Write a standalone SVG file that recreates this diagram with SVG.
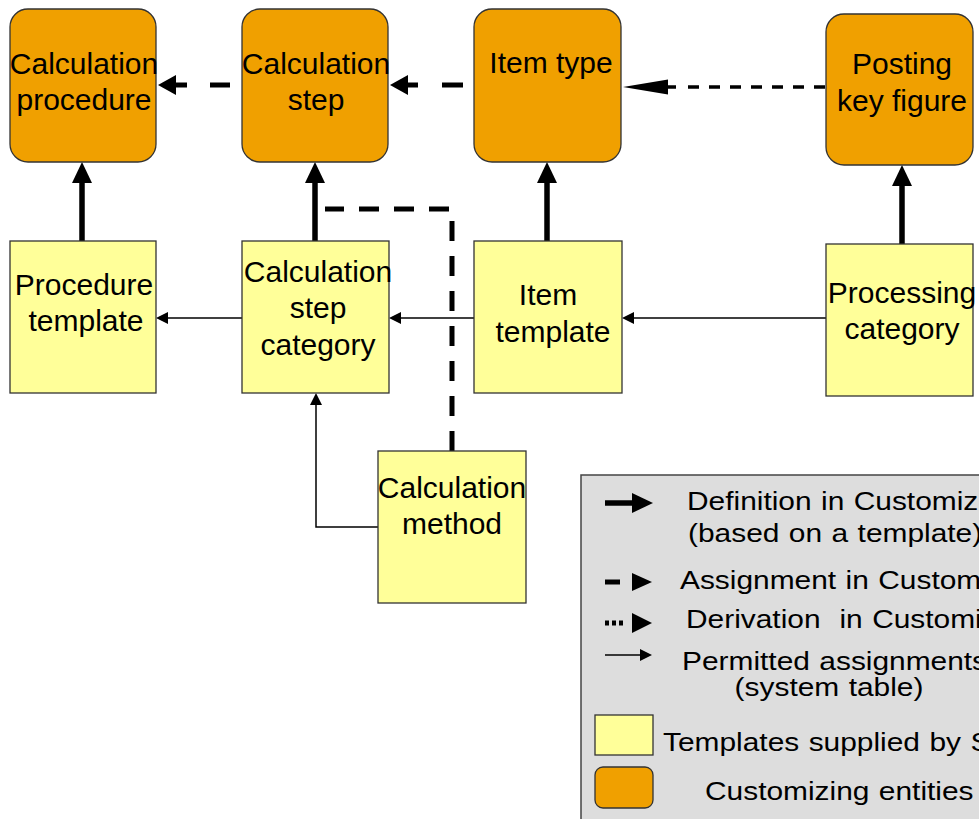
<svg xmlns="http://www.w3.org/2000/svg" width="979" height="819" viewBox="0 0 979 819">
<style>
.ent{fill:#f0a000;stroke:#333;stroke-width:1.3}
.tpl{fill:#ffff99;stroke:#333;stroke-width:1.3}
.t{font-family:"Liberation Sans",Arial,sans-serif;font-size:30px;fill:#000;text-anchor:middle}
.lt{font-family:"Liberation Sans",Arial,sans-serif;font-size:26px;fill:#000;word-spacing:1px}
.def{stroke:#000;stroke-width:5.5;fill:none}
.asg{stroke:#000;stroke-width:5;fill:none}
.der{stroke:#000;stroke-width:3.5;fill:none}
.perm{stroke:#000;stroke-width:1.5;fill:none}
</style>
<defs>
<marker id="mDef" markerUnits="userSpaceOnUse" markerWidth="22" markerHeight="22" refX="0" refY="10" orient="auto" viewBox="0 0 22 20">
<path d="M0,0 L21,10 L0,20 z" fill="#000"/>
</marker>
<marker id="mAsg" markerUnits="userSpaceOnUse" markerWidth="20" markerHeight="22" refX="0" refY="10" orient="auto" viewBox="0 0 20 20">
<path d="M0,0 L18,10 L0,20 z" fill="#000"/>
</marker>
<marker id="mDer" markerUnits="userSpaceOnUse" markerWidth="46" markerHeight="16" refX="0" refY="7.5" orient="auto" viewBox="0 0 46 15">
<path d="M0,0 L45,7.5 L0,15 z" fill="#000"/>
</marker>
<marker id="mPerm" markerUnits="userSpaceOnUse" markerWidth="12" markerHeight="12" refX="0" refY="6" orient="auto" viewBox="0 0 12 12">
<path d="M0,0 L12,6 L0,12 z" fill="#000"/>
</marker>
</defs>

<g id="connectors">
<path class="asg" d="M242,85 L176,85" stroke-dasharray="0 12 20 23 11" marker-end="url(#mAsg)"/>
<path class="asg" d="M474,85 L408,85" stroke-dasharray="0 11 21 24 10" marker-end="url(#mAsg)"/>
<path class="der" d="M676,87 L668,87" marker-end="url(#mDer)"/>
<path class="der" d="M688,87 L826,87" stroke-dasharray="11 10"/>
<path class="def" d="M82,241 L82,183" marker-end="url(#mDef)"/>
<path class="def" d="M315,241 L315,183" marker-end="url(#mDef)"/>
<path class="def" d="M547,241 L547,183" marker-end="url(#mDef)"/>
<path class="def" d="M902,244 L902,186" marker-end="url(#mDef)"/>
<path class="asg" d="M452,451 L452,209 L325,209" stroke-dasharray="20 15"/>
<path class="perm" d="M242,318 L168,318" marker-end="url(#mPerm)"/>
<path class="perm" d="M474,318 L401,318" marker-end="url(#mPerm)"/>
<path class="perm" d="M826,318 L634,318" marker-end="url(#mPerm)"/>
<path class="perm" d="M378,527 L316,527 L316,405" stroke="#444" marker-end="url(#mPerm)"/>
</g>

<g id="calc-procedure">
<rect class="ent" x="10" y="9" width="146" height="153" rx="18"/>
<text class="t" x="84" y="74">Calculation</text>
<text class="t" x="84" y="110">procedure</text>
</g>
<g id="calc-step">
<rect class="ent" x="242" y="9" width="146" height="153" rx="18"/>
<text class="t" x="316" y="74">Calculation</text>
<text class="t" x="316" y="110">step</text>
</g>
<g id="item-type">
<rect class="ent" x="474" y="9" width="147" height="153" rx="18"/>
<text class="t" x="551" y="73">Item type</text>
</g>
<g id="posting-key-figure">
<rect class="ent" x="826" y="14" width="147" height="151" rx="18"/>
<text class="t" x="902" y="74">Posting</text>
<text class="t" x="902" y="111">key figure</text>
</g>

<g id="procedure-template">
<rect class="tpl" x="10" y="241" width="146" height="152"/>
<text class="t" x="84" y="295">Procedure</text>
<text class="t" x="86" y="331">template</text>
</g>
<g id="calc-step-category">
<rect class="tpl" x="242" y="241" width="147" height="152"/>
<text class="t" x="318" y="282">Calculation</text>
<text class="t" x="318" y="318">step</text>
<text class="t" x="318" y="355">category</text>
</g>
<g id="item-template">
<rect class="tpl" x="474" y="241" width="148" height="152"/>
<text class="t" x="548" y="305">Item</text>
<text class="t" x="553" y="342">template</text>
</g>
<g id="processing-category">
<rect class="tpl" x="826" y="244" width="147" height="152"/>
<text class="t" x="902" y="303">Processing</text>
<text class="t" x="902" y="339">category</text>
</g>
<g id="calc-method">
<rect class="tpl" x="378" y="451" width="148" height="152"/>
<text class="t" x="452" y="498">Calculation</text>
<text class="t" x="452" y="534">method</text>
</g>

<g id="legend">
<rect x="581" y="475" width="420" height="360" fill="#dddddd" stroke="#444" stroke-width="1.5"/>
<path class="def" d="M605,503 L632,503" marker-end="url(#mDef)"/>
<path class="asg" d="M605,582 L620,582"/>
<path d="M632,573 L652,582 L632,591 z" fill="#000"/>
<path class="asg" d="M605,623 L625,623" stroke-width="4" stroke-dasharray="4 3"/>
<path d="M632,613 L652,623 L632,633 z" fill="#000"/>
<path class="perm" d="M605,655 L640,655" marker-end="url(#mPerm)"/>
<rect class="tpl" x="595" y="715" width="58" height="40"/>
<rect class="ent" x="595" y="767" width="58" height="41" rx="8"/>
<text class="lt" transform="translate(687,510) scale(1.15,1)">Definition in Customizing</text>
<text class="lt" transform="translate(688,542) scale(1.15,1)">(based on a template)</text>
<text class="lt" transform="translate(680,589) scale(1.15,1)">Assignment in Customizing</text>
<text class="lt" transform="translate(686,628) scale(1.15,1)" xml:space="preserve">Derivation  in Customizing</text>
<text class="lt" transform="translate(682,670) scale(1.15,1)">Permitted assignments</text>
<text class="lt" transform="translate(829,696) scale(1.15,1)" text-anchor="middle">(system table)</text>
<text class="lt" transform="translate(663,751) scale(1.15,1)">Templates supplied by SAP</text>
<text class="lt" transform="translate(705,800) scale(1.15,1)">Customizing entities</text>
</g>
</svg>
